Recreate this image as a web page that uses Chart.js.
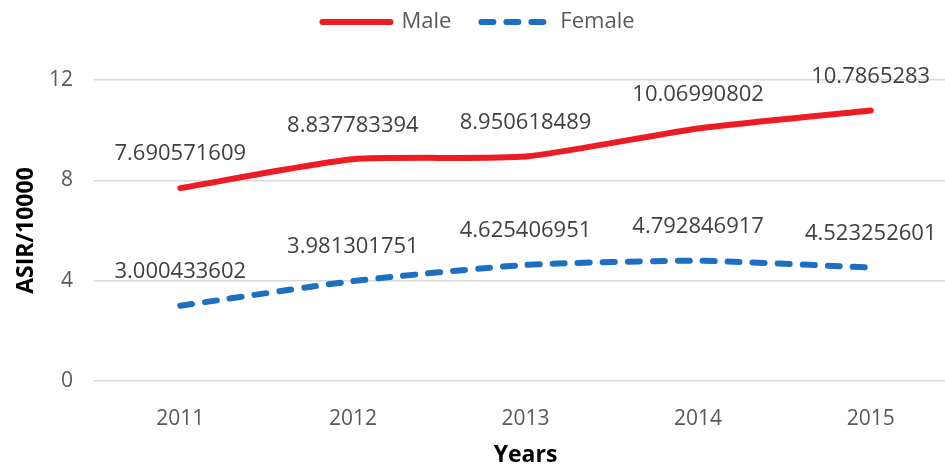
<!DOCTYPE html>
<html>
<head>
<meta charset="utf-8">
<script src="https://cdn.jsdelivr.net/npm/chart.js@4/dist/chart.umd.min.js"></script>
<style>
  html, body { margin: 0; padding: 0; background: #fff; overflow: hidden; }
  #wrap { width: 960px; height: 465px; }
</style>
</head>
<body>
<div id="wrap"><canvas id="asirChart" width="960" height="465"></canvas></div>
<script>
// ---- data ----
const years = ["2011", "2012", "2013", "2014", "2015"];
const maleValues = [7.690571609, 8.837783394, 8.950618489, 10.06990802, 10.7865283];
const femaleValues = [3.000433602, 3.981301751, 4.625406951, 4.792846917, 4.523252601];
const yTicks = [0, 4, 8, 12];

const textGrey = "#595959";
const labelGrey = "#404040";

// value labels above each point
const pointLabels = {
  id: "pointLabels",
  afterDatasetsDraw(chart) {
    const ctx = chart.ctx;
    ctx.save();
    ctx.font = "22px 'Open Sans'";
    ctx.fillStyle = labelGrey;
    ctx.textAlign = "center";
    ctx.textBaseline = "middle";
    chart.data.datasets.forEach((ds, i) => {
      const meta = chart.getDatasetMeta(i);
      meta.data.forEach((pt, j) => {
        ctx.fillText(String(ds.data[j]), pt.x, pt.y - 34);
      });
    });
    ctx.restore();
  },
};

// push the plot down below the legend
const legendSpace = {
  id: "legendSpace",
  beforeUpdate(chart) {
    const lg = chart.legend;
    if (lg && !lg._patched) {
      const fit = lg.fit;
      lg.fit = function () {
        fit.call(this);
        this.height += 37;
      };
      lg._patched = true;
    }
  },
};

new Chart(document.getElementById("asirChart"), {
  type: "line",
  data: {
    labels: years,
    datasets: [
      {
        label: "Male",
        data: maleValues,
        borderColor: "#ED1C24",
        backgroundColor: "#ED1C24",
        borderWidth: 6,
        borderCapStyle: "round",
        tension: 0.2,
        pointRadius: 0,
        fill: false,
      },
      {
        label: "Female",
        data: femaleValues,
        borderColor: "#1F6FC0",
        backgroundColor: "#1F6FC0",
        borderWidth: 6,
        borderDash: [12, 13],
        borderCapStyle: "round",
        tension: 0.2,
        pointRadius: 0,
        fill: false,
      },
    ],
  },
  options: {
    responsive: false,
    animation: false,
    layout: { padding: { top: -19, right: 3, bottom: 0, left: 0 } },
    plugins: {
      tooltip: { enabled: false },
      legend: {
        position: "top",
        labels: {
          usePointStyle: true,
          pointStyle: "line",
          pointStyleWidth: 68,
          boxHeight: 22,
          padding: 30,
          color: textGrey,
          font: { family: "'Open Sans'", size: 22 },
          generateLabels(chart) {
            return chart.data.datasets.map((ds, i) => ({
              text: ds.label,
              datasetIndex: i,
              strokeStyle: ds.borderColor,
              fillStyle: ds.borderColor,
              lineWidth: ds.borderWidth,
              lineDash: ds.borderDash || [],
              lineCap: "round",
              pointStyle: "line",
              fontColor: textGrey,
              hidden: false,
            }));
          },
        },
      },
    },
    scales: {
      x: {
        offset: true,
        grid: { display: false },
        border: { display: false },
        ticks: {
          color: textGrey,
          padding: 17,
          font: { family: "'Open Sans'", size: 21 },
        },
        title: {
          display: true,
          text: "Years",
          color: "#000",
          font: { family: "'Open Sans'", size: 23, weight: "bold", lineHeight: 0.85 },
          padding: { top: 0, bottom: 0 },
        },
        afterFit(scale) {
          scale.height = 84;
        },
      },
      y: {
        min: 0,
        max: 12,
        afterBuildTicks(scale) {
          scale.ticks = yTicks.map((v) => ({ value: v }));
        },
        grid: { color: "#D9D9D9", lineWidth: 1.5, drawTicks: false },
        border: { display: false },
        ticks: {
          color: textGrey,
          padding: 21,
          font: { family: "'Open Sans'", size: 21 },
        },
        title: {
          display: true,
          text: "ASIR/10000",
          color: "#000",
          font: { family: "'Open Sans'", size: 23, weight: "bold" },
          padding: { top: 13, bottom: 0 },
        },
        afterFit(scale) {
          scale.width = 94;
        },
      },
    },
  },
  plugins: [pointLabels, legendSpace],
});
</script>
</body>
</html>
